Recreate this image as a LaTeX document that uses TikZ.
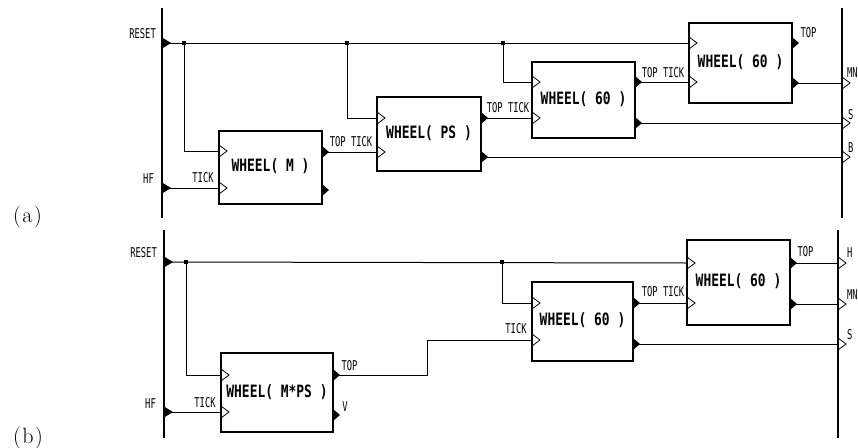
\documentclass[tikz,border=0pt]{standalone}
\usepackage{fontspec}
\newfontfamily\lblfont[FakeStretch=0.65]{DejaVu Sans Mono}
\newfontfamily\boxfont[FakeStretch=0.76]{DejaVu Sans Mono}
\begin{document}
\begin{tikzpicture}[x=1pt,y=-1pt,
  bus/.style={line width=2pt},
  wire/.style={line width=1pt},
  chev/.style={line width=0.8pt},
  wbox/.style={draw, line width=1.8pt, inner sep=0pt, outer sep=0pt,
    font=\boxfont\bfseries\fontsize{17}{19}\selectfont},
  lbl/.style={inner sep=0pt, font=\lblfont\fontsize{13.5}{15}\selectfont},
  tag/.style={inner sep=0pt, anchor=base west, font=\fontsize{22}{26}\selectfont}]
\useasboundingbox (0,0) rectangle (858,447);

% ---------------- (a) ----------------
\coordinate (aLt) at (162,8);  \coordinate (aLb) at (162,218);
\coordinate (aRt) at (842,8);  \coordinate (aRb) at (842,218);
\draw[bus] (aLt) -- (aLb);
\draw[bus] (aRt) -- (aRb);

\node[wbox, minimum width=103pt, minimum height=73pt] (M)  at (270.5,167.5) {\raisebox{4pt}{WHEEL( M )}};
\node[wbox, minimum width=104pt, minimum height=74pt] (PS) at (429,134)     {\raisebox{4pt}{WHEEL( PS )}};
\node[wbox, minimum width=103pt, minimum height=76pt] (A1) at (583.5,100)   {\raisebox{4pt}{WHEEL( 60 )}};
\node[wbox, minimum width=103pt, minimum height=80pt] (A2) at (740.5,63)    {\raisebox{4pt}{WHEEL( 60 )}};

\coordinate (Mi1) at (219,151); \coordinate (Mi2) at (219,188);
\coordinate (Mo1) at (322,152); \coordinate (Mo2) at (322,190);
\coordinate (Pi1) at (377,118); \coordinate (Pi2) at (377,152);
\coordinate (Po1) at (481,118); \coordinate (Po2) at (481,157);
\coordinate (Ai1) at (532,82);  \coordinate (Ai2) at (532,118);
\coordinate (Ao1) at (635,82);  \coordinate (Ao2) at (635,123);
\coordinate (Ci1) at (689,43);  \coordinate (Ci2) at (689,82);
\coordinate (Co1) at (792,43);  \coordinate (Co2) at (792,83);
\coordinate (LR) at (162,43);   \coordinate (LH) at (162,188);
\coordinate (RMN) at (842,83);  \coordinate (RS) at (842,123); \coordinate (RB) at (842,157);
\coordinate (J1) at (184,43); \coordinate (J2) at (347,43); \coordinate (J3) at (503,43);

\draw[wire] (LR) -- (Ci1);
\draw[wire] (J1) |- (Mi1);
\draw[wire] (J2) |- (Pi1);
\draw[wire] (J3) |- (Ai1);
\draw[wire] (LH) -- (Mi2);
\draw[wire] (Mo1) -- (Pi2);
\draw[wire] (Po1) -- (Ai2);
\draw[wire] (Po2) -- (RB);
\draw[wire] (Ao1) -- (Ci2);
\draw[wire] (Ao2) -- (RS);
\draw[wire] (Co2) -- (RMN);

% ---------------- (b) ----------------
\coordinate (bLt) at (164,230); \coordinate (bLb) at (164,438);
\coordinate (bRt) at (838,230); \coordinate (bRb) at (838,438);
\draw[bus] (bLt) -- (bLb);
\draw[bus] (bRt) -- (bRb);

\node[wbox, minimum width=112pt, minimum height=79pt] (N)  at (277,392.5)   {\raisebox{3pt}{WHEEL( M*PS )}};
\node[wbox, minimum width=101pt, minimum height=79pt] (B1) at (582.5,321.5) {\raisebox{4pt}{WHEEL( 60 )}};
\node[wbox, minimum width=103pt, minimum height=85pt] (B2) at (738.5,282.5) {\raisebox{4pt}{WHEEL( 60 )}};

\coordinate (Ni1) at (221,375); \coordinate (Ni2) at (221,412);
\coordinate (No1) at (333,375); \coordinate (No2) at (333,415);
\coordinate (Di1) at (532,303); \coordinate (Di2) at (532,340);
\coordinate (Do1) at (633,303); \coordinate (Do2) at (633,344);
\coordinate (Ei1) at (687,263); \coordinate (Ei2) at (687,303);
\coordinate (Eo1) at (790,263); \coordinate (Eo2) at (790,304);
\coordinate (bLR) at (164,262); \coordinate (bLH) at (164,412);
\coordinate (bRH) at (838,263); \coordinate (bRMN) at (838,304); \coordinate (bRS) at (838,344);
\coordinate (K1) at (186,262); \coordinate (K2) at (502,262);
\coordinate (Q1) at (427,375); \coordinate (Q2) at (427,340);

\draw[wire] (bLR) -- (Ei1);
\draw[wire] (K1) |- (Ni1);
\draw[wire] (K2) |- (Di1);
\draw[wire] (bLH) -- (Ni2);
\draw[wire] (No1) -- (Q1) -- (Q2) -- (Di2);
\draw[wire] (Do1) -- (Ei2);
\draw[wire] (Do2) -- (bRS);
\draw[wire] (Eo1) -- (bRH);
\draw[wire] (Eo2) -- (bRMN);

% ---------------- ports ----------------
\foreach \p in {Mi1,Mi2,Pi1,Pi2,Ai1,Ai2,Ci1,Ci2,RMN,RS,RB,
                Ni1,Ni2,Di1,Di2,Ei1,Ei2,bRH,bRMN,bRS}
  \draw[chev] (\p) ++(0,-6) -- ++(8,6) -- ++(-8,6);
\foreach \p in {Mo1,Mo2,Po1,Po2,Ao1,Ao2,Co1,Co2,No1,No2,Do1,Do2,Eo1,Eo2}
  \fill (\p) ++(0,-6) -- ++(7,6) -- ++(-7,6) -- cycle;
\foreach \p in {LR,LH,bLR,bLH}
  \fill (\p) ++(0,-5.5) -- ++(9,5.5) -- ++(-9,5.5) -- cycle;
\foreach \p in {J1,J2,J3,K1,K2}
  \fill ([shift={(-1.8,-1.8)}]\p) rectangle ++(3.6,3.6);

% ---------------- labels ----------------
\node[lbl, anchor=east] (tRa) at (156,34) {RESET};
\node[lbl, anchor=east] (tHa) at (154,179) {HF};
\node[lbl] (tTa) at (203,178) {TICK};
\node[lbl] (tT1) at (351,142) {TOP TICK};
\node[lbl] (tT2) at (508,108) {TOP TICK};
\node[lbl] (tT3) at (663,73) {TOP TICK};
\node[lbl] (tTa2) at (808.5,33) {TOP};
\node[lbl, anchor=west] (tMNa) at (847,73) {MN};
\node[lbl, anchor=west] (tSa) at (848,115) {S};
\node[lbl, anchor=west] (tBa) at (848,148) {B};

\node[lbl, anchor=east] (tRb) at (157,253) {RESET};
\node[lbl, anchor=east] (tHb) at (156,404) {HF};
\node[lbl] (tTb) at (205,403) {TICK};
\node[lbl] (tTop1) at (349.5,366) {TOP};
\node[lbl] (tV) at (345,407) {V};
\node[lbl] (tTb2) at (516,329) {TICK};
\node[lbl] (tTb3) at (663,292) {TOP TICK};
\node[lbl] (tTop2) at (805.5,252) {TOP};
\node[lbl, anchor=west] (tH) at (847,253) {H};
\node[lbl, anchor=west] (tMNb) at (847,295) {MN};
\node[lbl, anchor=west] (tSb) at (847,335) {S};

\node[tag] (ta) at (13,222) {(\kern1.5pt a\kern1.5pt)};
\node[tag] (tb) at (13,443) {(\kern1.5pt b\kern1.5pt)};
\end{tikzpicture}
\end{document}
